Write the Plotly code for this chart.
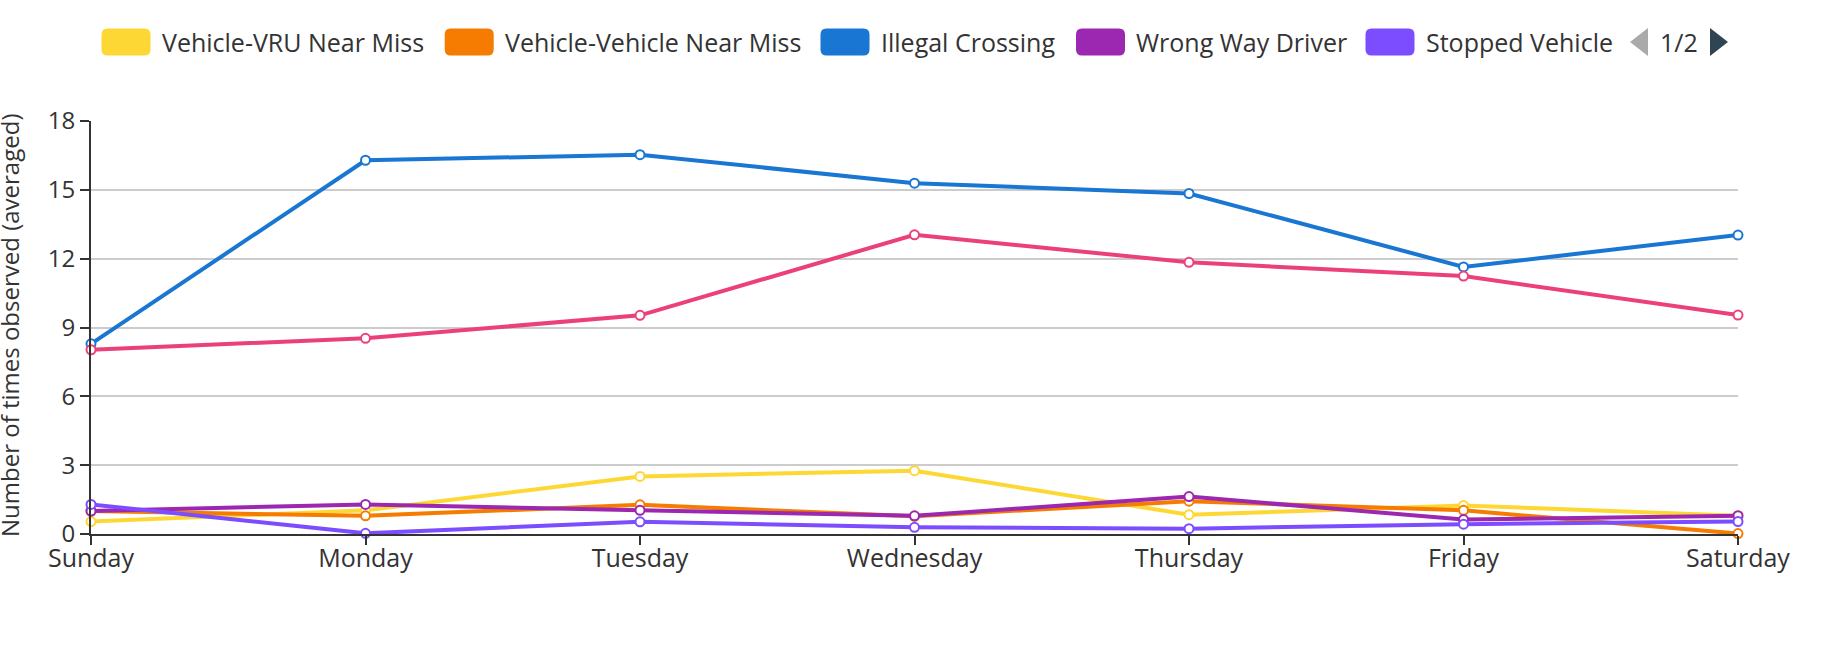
import plotly.graph_objects as go

# ---------------- data ----------------
days = ["Sunday", "Monday", "Tuesday", "Wednesday", "Thursday", "Friday", "Saturday"]
y_ticks = [0, 3, 6, 9, 12, 15, 18]

vru_near_miss = [0.54, 1.03, 2.51, 2.76, 0.84, 1.24, 0.8]
veh_near_miss = [1.0, 0.79, 1.27, 0.77, 1.43, 1.03, 0.02]
illegal_crossing = [8.29, 16.29, 16.53, 15.29, 14.84, 11.64, 13.03]
wrong_way = [1.0, 1.29, 1.03, 0.79, 1.63, 0.63, 0.8]
stopped_vehicle = [1.29, 0.03, 0.53, 0.29, 0.23, 0.43, 0.54]
page2_series = [8.03, 8.53, 9.53, 13.04, 11.84, 11.24, 9.54]

series_names = ["Vehicle-VRU Near Miss", "Vehicle-Vehicle Near Miss", "Illegal Crossing",
                "Wrong Way Driver", "Stopped Vehicle", "Pedestrian Violation"]
series_values = [vru_near_miss, veh_near_miss, illegal_crossing, wrong_way, stopped_vehicle, page2_series]
series_colors = ["#FDD835", "#F57C00", "#1976D2", "#9C27B0", "#7C4DFF", "#EC407A"]
legend_visible = [True, True, True, True, True, False]
y_title = "Number of times observed (averaged)"
page_text = "1/2"

# ---------------- layout geometry ----------------
W, H = 1830, 654
L, R = 91, 1738          # plot left/right in px
T, B = 120.7, 534.3      # plot top/bottom in px
FONT = "Open Sans"
TXT = "#333333"

def px_x(p):
    return (p - L) / (R - L)

def px_y(p):
    return (B - p) / (B - T)

fig = go.Figure()
for name, vals, col in zip(series_names, series_values, series_colors):
    fig.add_trace(go.Scatter(
        x=days, y=vals, name=name, mode="lines+markers",
        line=dict(color=col, width=4),
        marker=dict(size=9, color="white", line=dict(color=col, width=2)),
        cliponaxis=False, showlegend=False,
    ))

shapes = []
annotations = []

def rrect(w, h, r):
    x0, x1, y0, y1 = -w / 2, w / 2, -h / 2, h / 2
    return (f"M {x0+r},{y0} L {x1-r},{y0} Q {x1},{y0} {x1},{y0+r} "
            f"L {x1},{y1-r} Q {x1},{y1} {x1-r},{y1} L {x0+r},{y1} "
            f"Q {x0},{y1} {x0},{y1-r} L {x0},{y0+r} Q {x0},{y0} {x0+r},{y0} Z")

# manual legend (ECharts-style rounded swatches)
sw_left = [101.5, 444.7, 820.5, 1076.0, 1365.5]
leg_cy = 41.5
sw_w, sw_h = 49, 27
i_vis = 0
for name, col, vis in zip(series_names, series_colors, legend_visible):
    if not vis:
        continue
    x0 = sw_left[i_vis]
    shapes.append(dict(type="path", xref="paper", yref="paper",
                       xsizemode="pixel", ysizemode="pixel",
                       xanchor=px_x(x0 + sw_w / 2), yanchor=px_y(leg_cy),
                       path=rrect(sw_w, sw_h, 6), fillcolor=col, line=dict(width=0)))
    annotations.append(dict(text=name, xref="paper", yref="paper",
                            x=px_x(x0 + sw_w + 9), y=px_y(leg_cy),
                            xanchor="left", yanchor="middle", showarrow=False,
                            font=dict(family=FONT, size=25, color=TXT)))
    i_vis += 1

# page arrows
shapes.append(dict(type="path", xref="paper", yref="paper", xsizemode="pixel", ysizemode="pixel",
                   xanchor=px_x(1639), yanchor=px_y(leg_cy),
                   path="M -9,0 L 9,14 L 9,-14 Z", fillcolor="#AAAAAA", line=dict(width=0)))
shapes.append(dict(type="path", xref="paper", yref="paper", xsizemode="pixel", ysizemode="pixel",
                   xanchor=px_x(1719), yanchor=px_y(leg_cy),
                   path="M 9,0 L -9,14 L -9,-14 Z", fillcolor="#2F4554", line=dict(width=0)))
annotations.append(dict(text=page_text, xref="paper", yref="paper",
                        x=px_x(1679), y=px_y(leg_cy), xanchor="center", yanchor="middle",
                        showarrow=False, font=dict(family=FONT, size=25, color=TXT)))

# y axis title
annotations.append(dict(text=y_title, xref="paper", yref="paper",
                        x=px_x(9), y=px_y(326), xanchor="center", yanchor="middle",
                        textangle=-90, showarrow=False,
                        font=dict(family=FONT, size=24, color=TXT)))

fig.update_layout(
    width=W, height=H,
    margin=dict(l=L, r=W - R, t=T, b=H - B, pad=0),
    paper_bgcolor="white", plot_bgcolor="white",
    font=dict(family=FONT, size=24, color=TXT),
    showlegend=False,
    shapes=shapes, annotations=annotations,
    xaxis=dict(type="category", range=[0, 6], showgrid=False, zeroline=False,
               showline=True, linecolor="#333333", linewidth=2,
               ticks="outside", ticklen=9, tickwidth=2, tickcolor="#333333",
               tickfont=dict(family=FONT, size=25, color=TXT), ticklabelstandoff=-8),
    yaxis=dict(range=[0, 18], tickvals=y_ticks, showgrid=True, gridcolor="#CCCCCC",
               gridwidth=1.5, zeroline=False,
               showline=True, linecolor="#333333", linewidth=2,
               ticks="outside", ticklen=9, tickwidth=2, tickcolor="#333333",
               tickfont=dict(family=FONT, size=24, color=TXT), ticklabelstandoff=0),
)

fig.write_html("out.html", config={"displayModeBar": False},
               post_script="document.body.style.margin='0';")
